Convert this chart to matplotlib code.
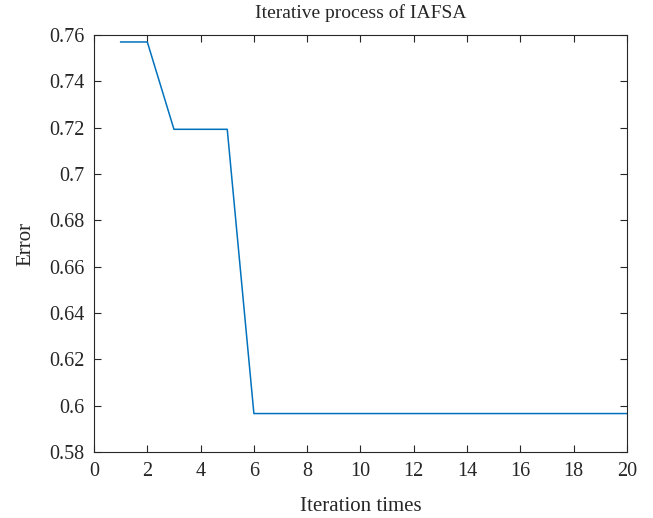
import matplotlib
matplotlib.use("Agg")
import matplotlib.pyplot as plt

iterations = list(range(1, 21))
errors = [0.757, 0.757, 0.7193, 0.7193, 0.7193] + [0.5966] * 15

plt.rcParams["font.family"] = ["Liberation Serif", "DejaVu Serif"]

fig = plt.figure(figsize=(6.53, 5.18), dpi=100)
ax = fig.add_axes([0.144, 0.1274, 0.816, 0.805])
ax.plot(iterations, errors, color="#0072BD", linewidth=1.1)

ax.set_xlim(0, 20)
ax.set_ylim(0.58, 0.76)
ax.set_xticks(range(0, 21, 2))
ax.set_yticks([0.58, 0.6, 0.62, 0.64, 0.66, 0.68, 0.7, 0.72, 0.74, 0.76])
ax.set_yticklabels(["0.58", "0.6", "0.62", "0.64", "0.66", "0.68", "0.7", "0.72", "0.74", "0.76"])
ax.tick_params(direction="in", top=True, right=True, length=5, width=0.8,
               colors="#262626", labelsize=14.5, pad=7)
for s in ax.spines.values():
    s.set_color("#262626")
    s.set_linewidth(0.8)

ax.set_title("Iterative process of IAFSA", fontsize=14, color="#262626", pad=12)
ax.set_xlabel("Iteration times", fontsize=15, color="#262626", labelpad=12)
ax.set_ylabel("Error", fontsize=15, color="#262626", labelpad=10)

fig.savefig("out.png", dpi=100)
